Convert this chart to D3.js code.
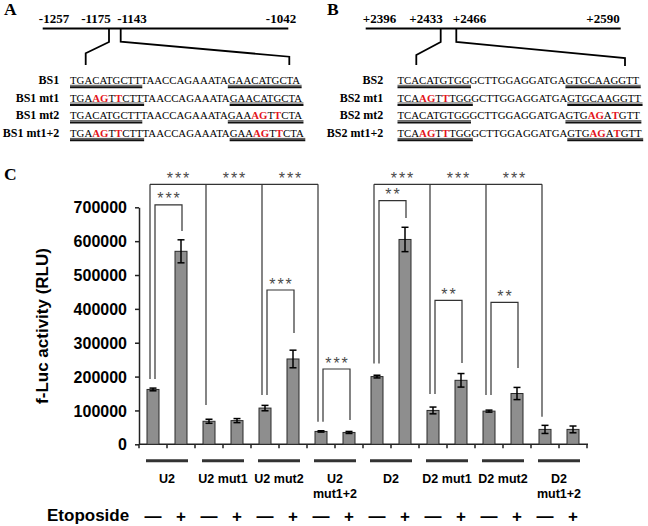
<!DOCTYPE html>
<html><head><meta charset="utf-8">
<script src="https://cdn.jsdelivr.net/npm/d3@7/dist/d3.min.js"></script>
<style>
html,body{margin:0;padding:0;background:#fff;}
svg{display:block;}
</style></head>
<body>
<script>
// ---------------- DATA ----------------
const yTicks = [0, 100000, 200000, 300000, 400000, 500000, 600000, 700000];
const groupLabels = [["U2"], ["U2 mut1"], ["U2 mut2"], ["U2", "mut1+2"], ["D2"], ["D2 mut1"], ["D2 mut2"], ["D2", "mut1+2"]];
const etoposide = ["—", "+", "—", "+", "—", "+", "—", "+", "—", "+", "—", "+", "—", "+", "—", "+"];
const means = [162000, 570000, 68000, 70000, 107000, 252000, 38000, 35000, 200000, 605000, 100000, 189000, 98000, 150000, 44000, 44000];
const errors = [4000, 34000, 6000, 6000, 8000, 26000, 2000, 3000, 4000, 36000, 10000, 20000, 3000, 18000, 12000, 10000];

// significance: outer brackets (control bar vs. other "-" bars)
const outerSets = [[0, 2, 4, 6], [8, 10, 12, 14]];
const outerLevel = 768000;
const outerLabels = [["***", "***", "***"], ["***", "***", "***"]];
const dropEnds = {0: 193000, 2: 116000, 4: 145600, 6: 66700, 8: 238600, 10: 148500, 12: 145600, 14: 81500};
// inner brackets ("-" vs "+")
const innerPairs = [[0, 1], [4, 5], [6, 7], [8, 9], [10, 11], [12, 13]];
const innerLabels = ["***", "***", "***", "**", "**", "**"];
const innerLevels = [707000, 455700, 222400, 719500, 425300, 419400];
const innerRightEnds = [630000, 328700, 71800, 668300, 240100, 225300];

// panels A / B
const posA = ["-1257", "-1175", "-1143", "-1042"];
const posB = ["+2396", "+2433", "+2466", "+2590"];
const labelsA = ["BS1", "BS1 mt1", "BS1 mt2", "BS1 mt1+2"];
const seqA = ["TGACATGCTTTAACCAGAAATAGAACATGCTA",
              "TGAAGTTCTTTAACCAGAAATAGAACATGCTA",
              "TGACATGCTTTAACCAGAAATAGAAAGTTCTA",
              "TGAAGTTCTTTAACCAGAAATAGAAAGTTCTA"];
const sitesA = [[0, 10], [22, 32]];
const labelsB = ["BS2", "BS2 mt1", "BS2 mt2", "BS2 mt1+2"];
const seqB = ["TCACATGTGGGCTTGGAGGATGAGTGCAAGGTT",
              "TCAAGTTTGGGCTTGGAGGATGAGTGCAAGGTT",
              "TCACATGTGGGCTTGGAGGATGAGTGAGATGTT",
              "TCAAGTTTGGGCTTGGAGGATGAGTGAGATGTT"];
const sitesB = [[0, 10], [23, 33]];

// ---------------- DRAW ----------------
const W = 648, H = 526;
const SANS = "'Liberation Sans', Arial, sans-serif";
const SERIF = "'Liberation Serif', 'Times New Roman', serif";
const svg = d3.select("body").append("svg").attr("width", W).attr("height", H);

[["A", 4, 15], ["B", 327, 15], ["C", 4, 180]].forEach(([t, x, y]) => {
  svg.append("text").attr("x", x).attr("y", y).text(t)
    .attr("font-family", SERIF).attr("font-weight", "bold").attr("font-size", 17.5);
});

function drawMap(cfg) {
  const g = svg.append("g");
  cfg.pos.forEach((p, i) => {
    g.append("text").attr("x", cfg.posX[i]).attr("y", 22.5).attr("text-anchor", "middle")
      .attr("font-family", SERIF).attr("font-weight", "bold").attr("font-size", 13).text(p);
  });
  g.append("line").attr("x1", cfg.line[0]).attr("x2", cfg.line[1]).attr("y1", 28.5).attr("y2", 28.5)
    .attr("stroke", "#000").attr("stroke-width", 2);
  cfg.conn.forEach(pts => {
    g.append("path").attr("d", d3.line()(pts)).attr("fill", "none").attr("stroke", "#000").attr("stroke-width", 1.8);
  });
  const rowY = [84, 101.7, 119.4, 137.1];
  cfg.labels.forEach((lab, r) => {
    g.append("text").attr("x", cfg.labelX).attr("y", rowY[r]).attr("text-anchor", "end")
      .attr("font-family", SERIF).attr("font-weight", "bold").attr("font-size", 12).text(lab);
    const wt = cfg.seqs[0], s = cfg.seqs[r];
    const t = g.append("text").attr("x", cfg.seqX).attr("y", rowY[r])
      .attr("font-family", SERIF).attr("font-size", 10.8);
    let runs = [];
    for (let i = 0; i < s.length; i++) {
      const mut = s[i] !== wt[i];
      if (runs.length && runs[runs.length - 1].mut === mut) runs[runs.length - 1].txt += s[i];
      else runs.push({mut, txt: s[i]});
    }
    runs.forEach(rn => {
      t.append("tspan").text(rn.txt)
        .attr("fill", rn.mut ? "#e3141b" : "#000")
        .attr("font-weight", rn.mut ? "bold" : "normal");
    });
    const node = t.node();
    cfg.sites.forEach(([a, b]) => {
      const x1 = node.getStartPositionOfChar(a).x;
      const x2 = Math.min(node.getEndPositionOfChar(b - 1).x + 1.5, W - 1);
      g.append("line").attr("x1", x1).attr("x2", x2).attr("y1", rowY[r] + 1.3).attr("y2", rowY[r] + 1.3)
        .attr("stroke", "#000").attr("stroke-width", 0.7);
      g.append("line").attr("x1", x1).attr("x2", x2).attr("y1", rowY[r] + 3.2).attr("y2", rowY[r] + 3.2)
        .attr("stroke", "#111").attr("stroke-width", 2);
    });
  });
}
drawMap({pos: posA, posX: [54, 96, 132, 281], line: [42.7, 288.3],
  conn: [[[109, 28.5], [109, 42], [85.7, 53.3], [85.7, 65]], [[120.7, 28.5], [120.7, 41.7], [289.3, 56.7], [289.3, 65]]],
  labels: labelsA, labelX: 59.3, seqX: 70, seqs: seqA, sites: sitesA});
drawMap({pos: posB, posX: [379.5, 426, 469.5, 603], line: [365.7, 620.7],
  conn: [[[440.7, 28.5], [440.7, 42], [416.3, 55], [416.3, 65]], [[456.3, 28.5], [456.3, 42], [625, 58], [625, 66]]],
  labels: labelsB, labelX: 383.3, seqX: 397.5, seqs: seqB, sites: sitesB});

// ---- panel C
const x0 = 139, x1 = 587, yTop = 207.3, yBot = 444.3;
const idx = d3.range(means.length);
const x = d3.scaleBand().domain(idx).range([x0, x1]).paddingInner(16 / 28).paddingOuter(8 / 28);
const step = x.step();
const cx = i => x(i) + x.bandwidth() / 2;
const y = d3.scaleLinear().domain([0, 700000]).range([yBot, yTop]);

const axisColor = "#222";
const yAxis = svg.append("g").attr("transform", `translate(${x0},0)`)
  .call(d3.axisLeft(y).tickValues(yTicks).tickSize(4).tickPadding(8).tickSizeOuter(0).tickFormat(d3.format("d")));
yAxis.select(".domain").attr("stroke", axisColor).attr("stroke-width", 1.5);
yAxis.selectAll(".tick line").attr("stroke", axisColor).attr("stroke-width", 1.5);
yAxis.selectAll(".tick text").attr("font-family", SANS).attr("font-weight", "bold").attr("font-size", 16).attr("fill", "#000").attr("dy", "0.35em");

const boundaries = d3.range(means.length + 1).map(k => x0 + k * step);
svg.append("line").attr("x1", x0).attr("x2", x1 + 1).attr("y1", yBot).attr("y2", yBot)
  .attr("stroke", axisColor).attr("stroke-width", 1.5);
svg.selectAll(".xt").data(boundaries).enter().append("line")
  .attr("x1", d => d).attr("x2", d => d).attr("y1", yBot).attr("y2", yBot + 4)
  .attr("stroke", axisColor).attr("stroke-width", 1.5);

svg.selectAll(".bar").data(means).enter().append("rect")
  .attr("x", (d, i) => x(i)).attr("width", x.bandwidth())
  .attr("y", d => y(d)).attr("height", d => yBot - y(d))
  .attr("fill", "#8e8e8e").attr("stroke", "#2a2a2a").attr("stroke-width", 1);

const eb = svg.append("g").attr("stroke", "#000").attr("stroke-width", 1.5);
means.forEach((m, i) => {
  eb.append("line").attr("x1", cx(i)).attr("x2", cx(i)).attr("y1", y(m + errors[i])).attr("y2", y(m - errors[i]));
  [m + errors[i], m - errors[i]].forEach(v => {
    eb.append("line").attr("x1", cx(i) - 3.5).attr("x2", cx(i) + 3.5).attr("y1", y(v)).attr("y2", y(v));
  });
});

const br = svg.append("g").attr("stroke", "#333").attr("stroke-width", 1.2).attr("fill", "none");
const starStyle = sel => sel.attr("font-family", SANS).attr("font-size", 16).attr("fill", "#4a4a4a")
  .attr("letter-spacing", 2).attr("text-anchor", "middle");
const outerX = i => cx(i) - 3, innerLX = i => cx(i) + 2, innerRX = i => cx(i) + 1;
outerSets.forEach((set, si) => {
  const ly = y(outerLevel);
  br.append("line").attr("x1", outerX(set[0])).attr("x2", outerX(set[set.length - 1])).attr("y1", ly).attr("y2", ly);
  set.forEach(b => {
    br.append("line").attr("x1", outerX(b)).attr("x2", outerX(b)).attr("y1", ly).attr("y2", y(dropEnds[b]));
  });
  for (let k = 0; k < set.length - 1; k++) {
    svg.append("text").attr("x", (outerX(set[k]) + outerX(set[k + 1])) / 2 + 1).attr("y", ly - 0.5)
      .text(outerLabels[si][k]).call(starStyle);
  }
});
innerPairs.forEach(([a, b], k) => {
  const ly = y(innerLevels[k]);
  br.append("path").attr("d", d3.line()([[innerLX(a), y(dropEnds[a])], [innerLX(a), ly], [innerRX(b), ly], [innerRX(b), y(innerRightEnds[k])]]));
  svg.append("text").attr("x", (innerLX(a) + innerRX(b)) / 2 + 1).attr("y", ly - 0.5)
    .text(innerLabels[k]).call(starStyle);
});

groupLabels.forEach((lines, gi) => {
  const gc = (cx(2 * gi) + cx(2 * gi + 1)) / 2;
  svg.append("line").attr("x1", gc - 21).attr("x2", gc + 21).attr("y1", 460.7).attr("y2", 460.7)
    .attr("stroke", "#333").attr("stroke-width", 3);
  lines.forEach((ln, li) => {
    svg.append("text").attr("x", gc).attr("y", 482.5 + li * 15.5).attr("text-anchor", "middle")
      .attr("font-family", SANS).attr("font-weight", "bold").attr("font-size", 12.5).text(ln);
  });
});

svg.append("text").attr("x", 47).attr("y", 521).text("Etoposide")
  .attr("font-family", SANS).attr("font-weight", "bold").attr("font-size", 17);
etoposide.forEach((s, i) => {
  svg.append("text").attr("x", cx(i)).attr("y", s === "+" ? 522 : 521.5).attr("text-anchor", "middle")
    .attr("font-family", SANS).attr("font-weight", "bold").attr("font-size", 17).text(s);
});

svg.append("text").attr("transform", `translate(48.3,326) rotate(-90)`).attr("text-anchor", "middle")
  .attr("font-family", SANS).attr("font-weight", "bold").attr("font-size", 17).text("f-Luc activity (RLU)");
</script>
</body></html>
